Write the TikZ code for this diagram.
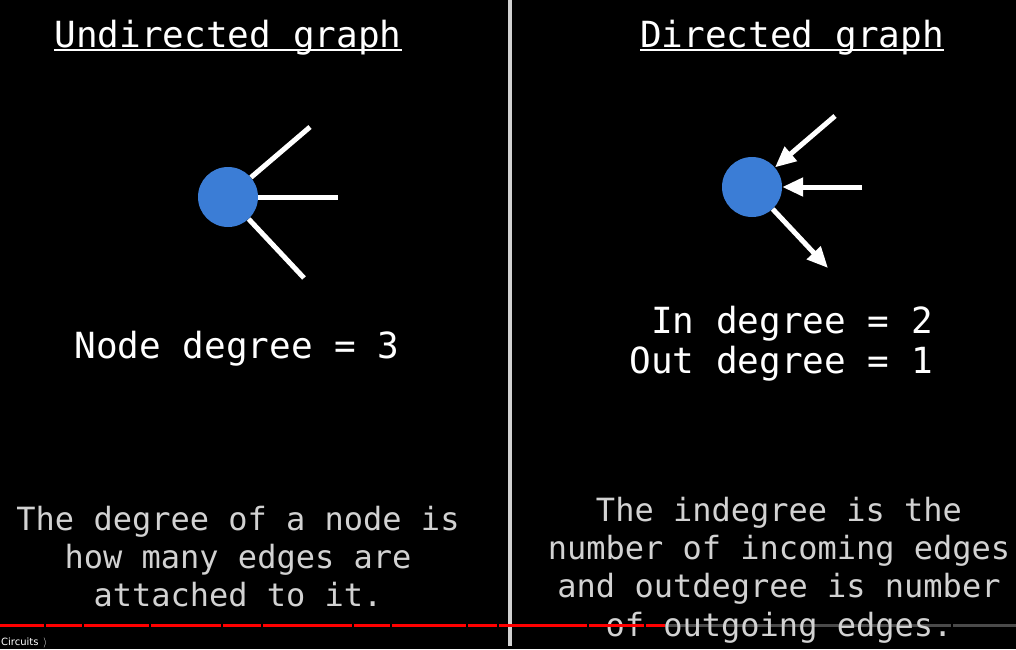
\documentclass[tikz,border=0pt]{standalone}
\usepackage{fontspec}
\setmonofont{DejaVu Sans Mono}
\setsansfont{DejaVu Sans}
\usetikzlibrary{arrows.meta}

\definecolor{dotblue}{HTML}{3B7DD6}
\definecolor{notegray}{HTML}{D2D2D2}
\definecolor{bargray}{HTML}{4A4A4A}

\tikzset{
  dot/.style={circle, fill=dotblue, minimum size=60pt, inner sep=0pt},
  edge/.style={white, line width=5pt},
  arr/.style={white, line width=5pt, -{Triangle[length=21pt, width=18pt]}},
  title/.style={white, inner sep=0pt, anchor=base, font=\ttfamily\fontsize{36}{36}\selectfont},
  big/.style={white, inner sep=0pt, font=\ttfamily\fontsize{36}{40}\selectfont},
  note/.style={notegray, inner sep=0pt, anchor=base, font=\ttfamily\fontsize{32}{38}\selectfont}
}

\begin{document}
\begin{tikzpicture}[x=1pt, y=-1pt]

\fill [black] (0,0) rectangle (1016,649);
\useasboundingbox (0,0) rectangle (1016,649);

% divider
\draw [notegray, line width=4pt] (510,0) -- (510,646);

% titles
\node [title] (ut) at (228,47) {Undirected graph};
\node [title] (dt) at (792,47) {Directed graph};
\draw [white, line width=2pt] ([yshift=-3pt]ut.base west) -- ([yshift=-3pt]ut.base east);
\draw [white, line width=2pt] ([yshift=-3pt]dt.base west) -- ([yshift=-3pt]dt.base east);

% undirected node
\node [dot] (u) at (228,197) {};
\coordinate (ua) at (310,127);
\coordinate (ub) at (338,197);
\coordinate (uc) at (304,278);
\draw [edge] (u) -- (ua);
\draw [edge] (u) -- (ub);
\draw [edge] (u) -- (uc);

\node [big, anchor=base] (ud) at (237,358) {Node degree = 3};

% directed node
\node [dot] (d) at (752,187) {};
\coordinate (da) at (835,116);
\coordinate (db) at (862,187);
\coordinate (dc) at (828,268);
\draw [arr] (da) -- (d);
\draw [arr] (db) -- (d);
\draw [arr] (d) -- (dc);

\node [big, anchor=base east] (din) at (933,333) {In degree = 2};
\node [big, anchor=base east] (dout) at (933,373) {Out degree = 1};

% player bar, grey part behind the text
\draw [bargray, line width=3pt] (665,625) -- (951,625);
\draw [bargray, line width=3pt] (953,625) -- (1016,625);

% explanations
\node [note] (un1) at (238,530) {The degree of a node is};
\node [note] (un2) at (238,568) {how many edges are};
\node [note] (un3) at (238,606) {attached to it.};

\node [note] (dn1) at (779,521) {The indegree is the};
\node [note] (dn2) at (779,559) {number of incoming edges};
\node [note] (dn3) at (779,597) {and outdegree is number};
\node [note] (dn4) at (779,636) {of outgoing edges.};

% played part
\foreach \a/\b in {0/44, 46/82, 84/149, 151/221, 223/261, 263/352, 354/390, 392/466, 468/497, 499/587, 589/644, 646/665}
  \draw [red, line width=3pt] (\a,625) -- (\b,625);

\node [white, anchor=base west, inner sep=0pt, font=\sffamily\fontsize{10}{10}\selectfont] (ch) at (1,645) {Circuits \,$\rangle$};

\end{tikzpicture}
\end{document}
